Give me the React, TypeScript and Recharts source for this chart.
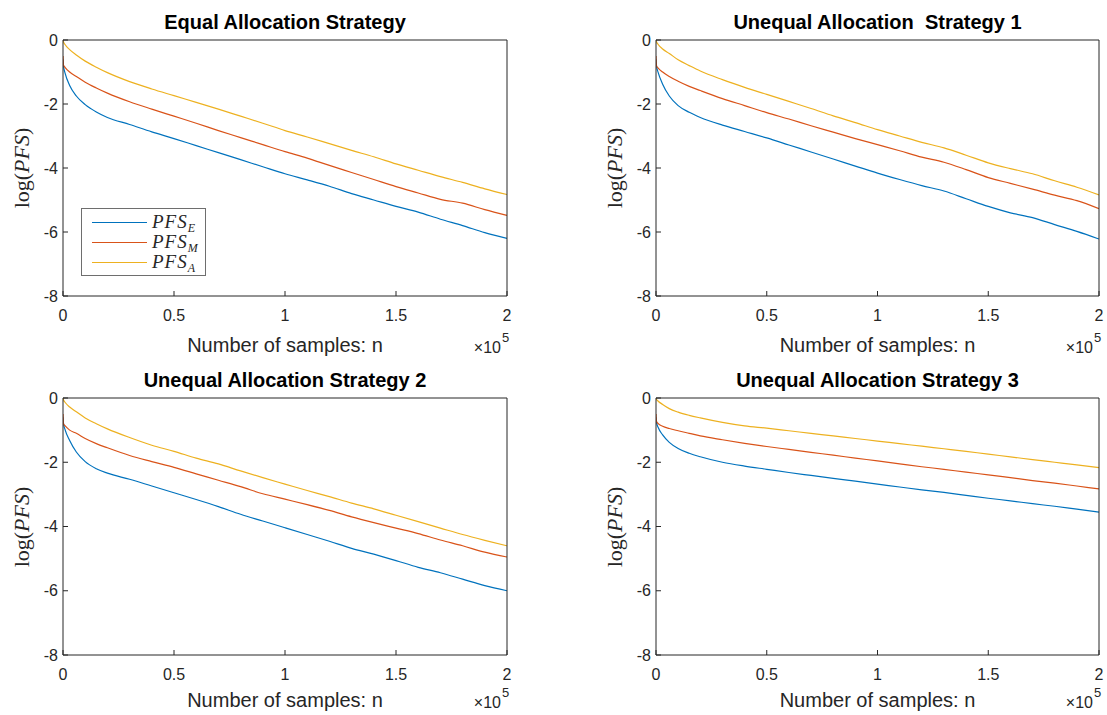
import React from 'react';
import { LineChart, Line, XAxis, YAxis, Legend } from 'recharts';

// sample count n, in units of 10^5
const N_1E5 = [0, 0.002, 0.01, 0.03, 0.06, 0.1, 0.15, 0.2, 0.3, 0.4, 0.5, 0.6, 0.7, 0.8, 0.9, 1.0, 1.1, 1.2, 1.3, 1.4, 1.5, 1.6, 1.7, 1.8, 1.9, 2.0];
const X_TICKS = [0, 0.5, 1, 1.5, 2];
const Y_TICKS = [-8, -6, -4, -2, 0];
const TITLES = ['Equal Allocation Strategy', 'Unequal Allocation  Strategy 1', 'Unequal Allocation Strategy 2', 'Unequal Allocation Strategy 3'];
const SERIES_SUBS = ['E', 'M', 'A'];

// Equal allocation
const EQ_E = [-0.6, -0.8, -1.05, -1.42, -1.75, -2.02, -2.25, -2.42, -2.64, -2.87, -3.08, -3.3, -3.52, -3.74, -3.96, -4.18, -4.37, -4.57, -4.8, -5.0, -5.2, -5.38, -5.6, -5.8, -6.02, -6.2];
const EQ_M = [-0.5, -0.78, -0.86, -1.0, -1.14, -1.32, -1.5, -1.66, -1.93, -2.16, -2.38, -2.6, -2.83, -3.05, -3.27, -3.49, -3.69, -3.92, -4.14, -4.36, -4.58, -4.78, -4.98, -5.1, -5.3, -5.48];
const EQ_A = [0, -0.05, -0.15, -0.3, -0.47, -0.66, -0.85, -1.02, -1.3, -1.53, -1.74, -1.95, -2.16, -2.38, -2.6, -2.83, -3.03, -3.24, -3.45, -3.65, -3.87, -4.07, -4.27, -4.45, -4.65, -4.83];

// Unequal allocation 1
const U1_E = [-0.6, -0.8, -1.02, -1.38, -1.75, -2.05, -2.26, -2.42, -2.66, -2.86, -3.06, -3.28, -3.5, -3.72, -3.94, -4.16, -4.36, -4.55, -4.72, -4.96, -5.2, -5.4, -5.55, -5.77, -5.98, -6.22];
const U1_M = [-0.5, -0.8, -0.88, -1.0, -1.14, -1.29, -1.45, -1.58, -1.83, -2.05, -2.27, -2.47, -2.68, -2.88, -3.08, -3.27, -3.46, -3.66, -3.82, -4.05, -4.3, -4.48, -4.66, -4.85, -5.02, -5.27];
const U1_A = [0, -0.05, -0.14, -0.28, -0.42, -0.62, -0.8, -0.97, -1.24, -1.48, -1.7, -1.92, -2.14, -2.37, -2.58, -2.8, -3.0, -3.2, -3.37, -3.6, -3.84, -4.02, -4.18, -4.4, -4.6, -4.84];

// Unequal allocation 2
const U2_E = [-0.6, -0.78, -1.0, -1.32, -1.68, -1.98, -2.2, -2.34, -2.53, -2.74, -2.95, -3.16, -3.38, -3.62, -3.83, -4.04, -4.25, -4.46, -4.68, -4.86, -5.06, -5.27, -5.44, -5.64, -5.84, -6.0];
const U2_M = [-0.5, -0.8, -0.87, -1.0, -1.1, -1.26, -1.42, -1.55, -1.79, -1.98, -2.16, -2.36, -2.56, -2.76, -2.98, -3.15, -3.32, -3.5, -3.7, -3.88, -4.05, -4.22, -4.42, -4.6, -4.8, -4.95];
const U2_A = [0, -0.05, -0.14, -0.28, -0.43, -0.62, -0.8, -0.96, -1.23, -1.47, -1.66, -1.87, -2.05, -2.27, -2.48, -2.68, -2.88, -3.07, -3.27, -3.45, -3.65, -3.85, -4.05, -4.25, -4.43, -4.6];

// Unequal allocation 3
const U3_E = [-0.6, -0.75, -0.92, -1.15, -1.38, -1.57, -1.72, -1.83, -2.0, -2.12, -2.22, -2.32, -2.41, -2.5, -2.59, -2.68, -2.77, -2.86, -2.94, -3.03, -3.12, -3.2, -3.29, -3.37, -3.46, -3.55];
const U3_M = [-0.5, -0.72, -0.8, -0.88, -0.95, -1.02, -1.1, -1.18, -1.3, -1.41, -1.51, -1.6, -1.69, -1.78, -1.87, -1.96, -2.05, -2.14, -2.22, -2.31, -2.39, -2.48, -2.57, -2.65, -2.74, -2.83];
const U3_A = [0, -0.04, -0.1, -0.2, -0.33, -0.44, -0.54, -0.62, -0.76, -0.87, -0.94, -1.02, -1.1, -1.18, -1.26, -1.34, -1.42, -1.5, -1.58, -1.66, -1.75, -1.83, -1.92, -2.0, -2.08, -2.17];

const COLORS = ['#0072BD', '#D95319', '#EDB120'];
const FONT = '"Liberation Sans", Arial, Helvetica, sans-serif';
const SERIF = '"Liberation Serif", "DejaVu Serif", serif';
const AX = '#262626';

const PAD_L = 60, PAD_T = 10, PAD_R = 20, PAD_B = 40;

function LegendBox(props: any) {
  const payload = [...(props.payload || [])].sort(
    (p: any, q: any) => SERIES_SUBS.indexOf(p.value) - SERIES_SUBS.indexOf(q.value));
  return (
    <div style={{ width: 123, height: 66, border: '1px solid #6e6e6e', background: '#fff', position: 'relative' }}>
      {payload.map((p: any, i: number) => (
        <div key={i} style={{ position: 'absolute', left: 0, top: 3 + i * 20, height: 20, width: 123 }}>
          <svg width={68} height={20} style={{ position: 'absolute', left: 0, top: 0 }}>
            <line x1={10} x2={65} y1={10.5} y2={10.5} stroke={p.color} strokeWidth={1.2} />
          </svg>
          <span style={{ position: 'absolute', left: 70, top: 0, fontFamily: SERIF, fontStyle: 'italic', fontSize: 19, lineHeight: '20px', color: AX, letterSpacing: 1, whiteSpace: 'nowrap' }}>
            PFS<sub style={{ fontSize: 12, verticalAlign: 'baseline', position: 'relative', top: 4, letterSpacing: 0 }}>{p.value}</sub>
          </span>
        </div>
      ))}
    </div>
  );
}

function Panel(props: any) {
  const { plotLeft, plotTop, plotW, plotH, title, e, m, a, showLegend, lblShift } = props;
  const data = N_1E5.map((n, i) => ({ n, E: e[i], M: m[i], A: a[i] }));
  const tickStyle = { fill: AX, fontSize: 16, fontFamily: FONT };
  const plotRight = plotLeft + plotW;
  const axis = plotTop + plotH;
  const s = lblShift || 0;
  return (
    <>
      <div style={{ position: 'absolute', left: plotLeft - PAD_L, top: plotTop - PAD_T }}>
        <LineChart width={plotW + PAD_L + PAD_R} height={plotH + PAD_T + PAD_B} data={data}
          margin={{ top: PAD_T - 1, left: PAD_L - 1, right: PAD_R - 1, bottom: PAD_B - 1 }}>
          <XAxis xAxisId="b" dataKey="n" type="number" domain={[0, 2]} ticks={X_TICKS} interval={0}
            height={1} tickSize={-5} tickMargin={19} stroke={AX} tick={tickStyle}
            tickFormatter={(v: number) => String(v)} allowDataOverflow />
          <XAxis xAxisId="t" orientation="top" dataKey="n" type="number" domain={[0, 2]} ticks={X_TICKS} interval={0}
            height={1} tickSize={-5} stroke={AX} tick={false} allowDataOverflow />
          <YAxis yAxisId="l" type="number" domain={[-8, 0]} ticks={Y_TICKS} interval={0}
            width={1} tickSize={-5} tickMargin={10} stroke={AX} tick={tickStyle} allowDataOverflow />
          <YAxis yAxisId="r" orientation="right" type="number" domain={[-8, 0]} ticks={Y_TICKS} interval={0}
            width={1} tickSize={-5} stroke={AX} tick={false} allowDataOverflow />
          {['E', 'M', 'A'].map((k, i) => (
            <Line key={k} xAxisId="b" yAxisId="l" type="monotone" dataKey={k} name={SERIES_SUBS[i]}
              stroke={COLORS[i]} strokeWidth={1.2} dot={false} isAnimationActive={false} />
          ))}
          {showLegend && (
            <Legend layout="horizontal" verticalAlign="middle" align="center"
              wrapperStyle={{ left: 81 - (plotLeft - PAD_L), top: 208 - (plotTop - PAD_T), width: 125, height: 68 }}
              content={<LegendBox />} />
          )}
        </LineChart>
      </div>
      <div style={{ position: 'absolute', left: plotLeft, width: plotW, top: plotTop - 28, textAlign: 'center', fontFamily: FONT, fontWeight: 'bold', fontSize: 20, lineHeight: '20px', color: '#000', whiteSpace: 'pre' }}>{title}</div>
      <div style={{ position: 'absolute', left: plotLeft, width: plotW, top: axis + 35 + s, textAlign: 'center', fontFamily: FONT, fontSize: 20, lineHeight: '20px', color: AX, whiteSpace: 'nowrap' }}>Number of samples: n</div>
      <div style={{ position: 'absolute', left: plotRight - 46, width: 40, top: axis + 40 + s, textAlign: 'right', fontFamily: FONT, fontSize: 16, lineHeight: '16px', color: AX }}>×10</div>
      <div style={{ position: 'absolute', left: plotRight - 5, top: axis + 31 + s, fontFamily: FONT, fontSize: 13, lineHeight: '13px', color: AX }}>5</div>
      <div style={{ position: 'absolute', left: plotLeft - 41 - 60, top: plotTop + plotH / 2 - 12, width: 120, height: 24, lineHeight: '24px', textAlign: 'center', transform: 'rotate(-90deg)', fontFamily: SERIF, fontSize: 22, color: AX, whiteSpace: 'nowrap' }}>
        log(<i>PFS</i>)
      </div>
    </>
  );
}

export default function App() {
  return (
    <div style={{ position: 'absolute', left: 0, top: 0, width: 1107, height: 715, background: '#fff', overflow: 'hidden' }}>
      <Panel plotLeft={63} plotTop={40} plotW={444} plotH={256} title={TITLES[0]} e={EQ_E} m={EQ_M} a={EQ_A} showLegend lblShift={4} />
      <Panel plotLeft={656} plotTop={40} plotW={443} plotH={256} title={TITLES[1]} e={U1_E} m={U1_M} a={U1_A} lblShift={4} />
      <Panel plotLeft={63} plotTop={398} plotW={444} plotH={257} title={TITLES[2]} e={U2_E} m={U2_M} a={U2_A} />
      <Panel plotLeft={656} plotTop={398} plotW={443} plotH={257} title={TITLES[3]} e={U3_E} m={U3_M} a={U3_A} />
    </div>
  );
}
